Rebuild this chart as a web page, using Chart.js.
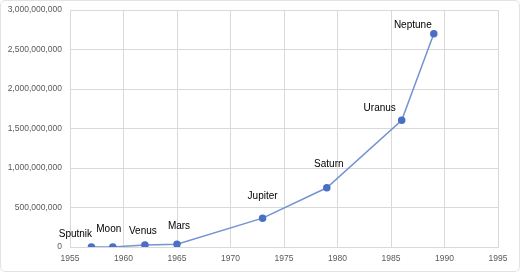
<!DOCTYPE html>
<html>
<head>
<meta charset="utf-8">
<script src="https://cdn.jsdelivr.net/npm/chart.js@4/dist/chart.umd.min.js"></script>
<style>
  html, body { margin: 0; padding: 0; background: #fff; }
  #wrap { position: relative; width: 520px; height: 272px; }
  #moldura { position: absolute; left: 0; top: 0; width: 520px; height: 272px; box-sizing: border-box; border: 1px solid #e3e3e3; border-radius: 5px; pointer-events: none; }
  canvas { position: absolute; left: 0; top: 0; }
</style>
</head>
<body>
<div id="wrap"><canvas id="missoes" width="520" height="272"></canvas><div id="moldura"></div></div>
<script>
// missões e distância (km)
const missoes = ['Sputnik', 'Moon', 'Venus', 'Mars', 'Jupiter', 'Saturn', 'Uranus', 'Neptune'];
const anos = [1957, 1959, 1962, 1965, 1973, 1979, 1986, 1989];
const distancias = [0, 0, 25000000, 35000000, 365000000, 750000000, 1605000000, 2700000000];

// deslocamento dos rótulos em relação ao ponto
const rotuloDx = [-16, -4, -2, 2, 0, 2, -22, -21];
const rotuloDy = [-13, -18, -14, -18, -22, -24, -12, -8];

const rotulos = {
  id: 'rotulos',
  afterDatasetsDraw(chart) {
    const ctx = chart.ctx;
    const pts = chart.getDatasetMeta(0).data;
    ctx.save();
    ctx.font = '10px "Liberation Sans", Arial, sans-serif';
    ctx.fillStyle = '#000';
    ctx.textAlign = 'center';
    ctx.textBaseline = 'middle';
    pts.forEach((p, i) => {
      ctx.fillText(missoes[i], p.x + rotuloDx[i], p.y + rotuloDy[i]);
    });
    ctx.restore();
  }
};

new Chart(document.getElementById('missoes'), {
  type: 'line',
  data: {
    datasets: [{
      data: anos.map((a, i) => ({ x: a, y: distancias[i] })),
      borderColor: '#7393d3',
      pointBackgroundColor: '#4a6fc6',
      pointBorderColor: '#4a6fc6',
      borderWidth: 1.5,
      pointRadius: 3,
      tension: 0
    }]
  },
  options: {
    responsive: false,
    animation: false,
    layout: { padding: { top: 0, right: 22, left: 0, bottom: 0 } },
    plugins: { legend: { display: false }, tooltip: { enabled: false } },
    scales: {
      x: {
        type: 'linear',
        min: 1955,
        max: 1995,
        afterFit(axis) { axis.height = 25; },
        ticks: {
          stepSize: 5,
          color: '#595959',
          font: { family: '"Liberation Sans", Arial, sans-serif', size: 8.5 },
          padding: 7,
          callback: v => String(v)
        },
        grid: { color: '#d9d9d9', drawTicks: false },
        border: { color: '#d9d9d9' }
      },
      y: {
        min: 0,
        max: 3000000000,
        afterFit(axis) { axis.width = 70; axis.paddingTop = 10; },
        ticks: {
          stepSize: 500000000,
          color: '#595959',
          font: { family: '"Liberation Sans", Arial, sans-serif', size: 8.5 },
          padding: 8,
          callback: v => v.toLocaleString('en-US')
        },
        grid: { color: '#d9d9d9', drawTicks: false },
        border: { color: '#d9d9d9' }
      }
    }
  },
  plugins: [rotulos]
});
</script>
</body>
</html>
